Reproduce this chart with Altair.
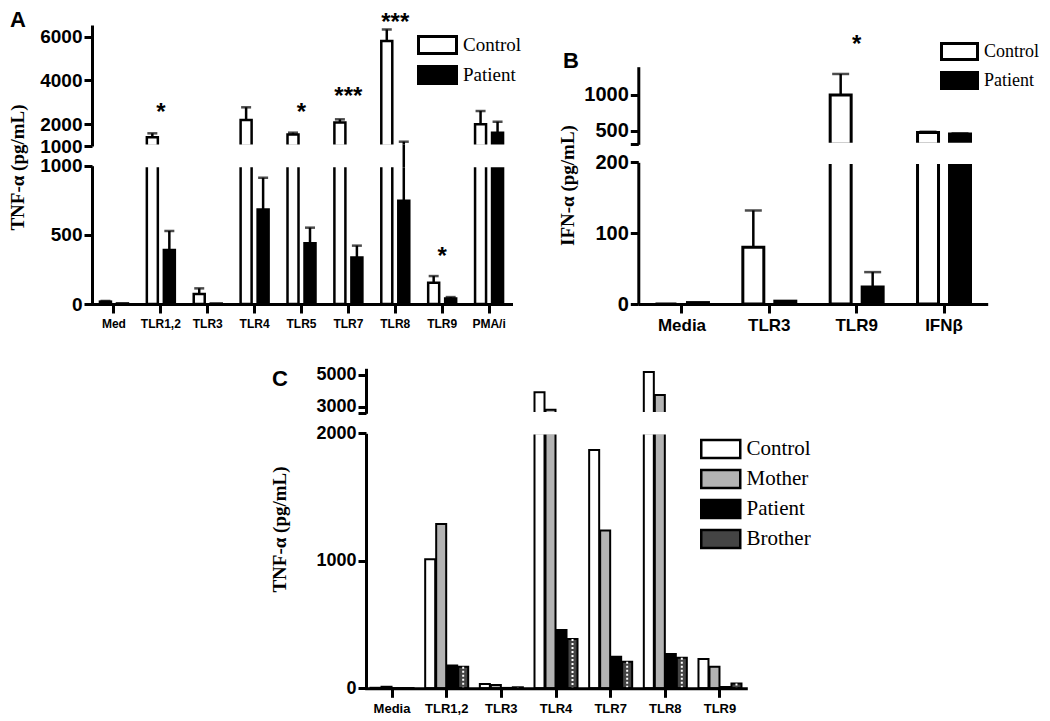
import altair as alt
import pandas as pd

# ---------------- Panel A: TNF-alpha, Control vs Patient ----------------
a_cats = ["Med", "TLR1,2", "TLR3", "TLR4", "TLR5", "TLR7", "TLR8", "TLR9", "PMA/i"]
a_control = [17, 1400, 72, 2190, 1530, 2080, 5800, 154, 1990]
a_control_err = [5, 180, 41, 580, 80, 140, 530, 48, 610]
a_patient = [4, 390, 3, 684, 439, 337, 747, 40, 1610]
a_patient_err = [0, 138, 0, 229, 113, 85, 450, 10, 500]
a_star_cats = ["TLR1,2", "TLR5", "TLR7", "TLR8", "TLR9"]
a_star_text = ["*", "*", "***", "***", "*"]
a_star_value = [2750, 2750, 3480, 7175, 375]
a_star_segment = ["top", "top", "top", "above", "bottom"]

# ---------------- Panel B: IFN-alpha, Control vs Patient ----------------
b_cats = ["Media", "TLR3", "TLR9", "IFNβ"]
b_control = [0, 80, 1000, 472]
b_control_err = [0, 52, 295, 12]
b_patient = [2, 4, 24, 453]
b_patient_err = [0, 0, 21, 8]
b_star_cats = ["TLR9"]
b_star_text = ["*"]
b_star_value = [1765]

# ---------------- Panel C: TNF-alpha, family ----------------
c_cats = ["Media", "TLR1,2", "TLR3", "TLR4", "TLR7", "TLR8", "TLR9"]
c_control = [4, 1012, 34, 3910, 1869, 5190, 230]
c_mother = [12, 1289, 26, 2800, 1237, 3740, 170]
c_patient = [2, 178, 3, 457, 248, 269, 10]
c_brother = [2, 170, 8, 387, 209, 240, 38]

two_series = ["Control", "Patient"]
four_series = ["Control", "Mother", "Patient", "Brother"]

W, H = 1034, 712


def long_df(cats, series):
    rows = []
    for name, (vals, errs) in series.items():
        for c, v, e in zip(cats, vals, errs):
            rows.append({"cat": c, "series": name, "value": v, "top": v + e, "err": e, "base": 0})
    return pd.DataFrame(rows)


dfA = long_df(a_cats, {"Control": (a_control, a_control_err), "Patient": (a_patient, a_patient_err)})
dfB = long_df(b_cats, {"Control": (b_control, b_control_err), "Patient": (b_patient, b_patient_err)})
zeros = [0] * len(c_cats)
dfC = long_df(c_cats, {"Control": (c_control, zeros), "Mother": (c_mother, zeros),
                       "Patient": (c_patient, zeros), "Brother": (c_brother, zeros)})

AXBASE = dict(labelFont="Liberation Sans", labelFontWeight="bold", labelColor="black",
              tickColor="black", tickWidth=3, domainColor="black", domainWidth=3,
              grid=False, zindex=1, labelFlush=False, labelOverlap=False)
TITLE = dict(titleFont="Liberation Serif", titleFontWeight="bold", titleColor="black",
             titleFontSize=19, titleAngle=270, titleAlign="center", titleBaseline="middle")


def yaxis(offset, values, size, title=None, tx=0, ty=0, hide=None):
    kw = dict(AXBASE)
    kw.update(orient="left", offset=offset, values=values, labelFontSize=size, tickSize=8,
              labelPadding=2, format="d")
    if hide is not None:
        kw["labelExpr"] = f"datum.value == {hide} ? '' : datum.label"
    if title:
        kw.update(TITLE)
        kw.update(title=title, titleX=tx, titleY=ty)
    else:
        kw["title"] = None
    return alt.Axis(**kw)


def xaxis(ypix, size, pad):
    kw = dict(AXBASE)
    kw.update(orient="bottom", offset=ypix - H, labelFontSize=size, tickSize=9, labelPadding=pad,
              labelAngle=0, title=None)
    return alt.Axis(**kw)


def make_x(cats, rng, axis):
    return alt.X("cat:N", scale=alt.Scale(domain=cats, range=rng, paddingInner=0, paddingOuter=0), axis=axis)


def make_xo(names, rng, pi, po):
    return alt.XOffset("series:N", scale=alt.Scale(domain=names, range=rng, paddingInner=pi, paddingOuter=po))


def legend(x, y, w, h, fs, rp, sw):
    # rectangle symbol of w x h px; path drawn at twice the nominal symbol size so rows can sit close
    yk = 2 * h / w
    return alt.Legend(orient="none", legendX=x + w / 4, legendY=y, title=None,
                      symbolType=f"M-2,{-yk:.3f}H2V{yk:.3f}H-2Z", symbolSize=w * w / 4,
                      symbolStrokeColor="black", symbolStrokeWidth=sw, symbolOpacity=1,
                      labelFont="Liberation Serif", labelFontSize=fs, labelColor="black",
                      rowPadding=rp, labelOffset=w / 4 + 5, padding=0)


def segment(df, cats, names, colors, x_rng, xo_rng, pi, po, y_dom, y_rng, y_axis, x_axis,
            leg, bar_sw, cap, top, errors=True):
    lo, hi = y_dom
    xs = make_x(cats, x_rng, x_axis)
    xn = make_x(cats, x_rng, None)
    xo = make_xo(names, xo_rng, pi, po)
    ys = alt.Scale(domain=y_dom, range=y_rng, clamp=True, zero=False, nice=False)
    dbar = df[df.value > lo] if top else df
    layers = [alt.Chart(dbar).mark_bar(stroke="black", strokeWidth=bar_sw, strokeJoin="miter").encode(
        x=xs, xOffset=xo,
        y=alt.Y("value:Q", scale=ys, axis=y_axis), y2=alt.Y2("base:Q"),
        fill=alt.Fill("series:N", scale=alt.Scale(domain=names, range=colors), legend=leg))]
    if errors:
        de = df[(df.err > 0) & (df.top > lo) & (df.value < hi)]
        if len(de):
            layers.append(alt.Chart(de).mark_rule(color="black", strokeWidth=2.5).encode(
                x=xn, xOffset=xo, y=alt.Y("value:Q", scale=ys, axis=None), y2=alt.Y2("top:Q")))
        dc = df[(df.err > 0) & (df.top > lo) & (df.top <= hi)]
        if len(dc):
            layers.append(alt.Chart(dc).mark_tick(color="black", thickness=2.5, size=cap).encode(
                x=xn, xOffset=xo, y=alt.Y("top:Q", scale=ys, axis=None)))
    return layers


def gap_rules(df, cats, names, x_rng, xo_rng, pi, po, bottom_hi, top_lo, y_px):
    # error bars that run through the axis break
    d = df[(df.value < bottom_hi) & (df.top > top_lo)].assign(g0=0, g1=1)
    if not len(d):
        return []
    return [alt.Chart(d).mark_rule(color="black", strokeWidth=2.5).encode(
        x=make_x(cats, x_rng, None), xOffset=make_xo(names, xo_rng, pi, po),
        y=alt.Y("g0:Q", scale=alt.Scale(domain=[0, 1], range=y_px, nice=False, zero=False), axis=None),
        y2="g1:Q")]


def star_layer(cats, scats, texts, vals, x_rng, y_dom, y_rng, size, baseline="middle", dy=5):
    d = pd.DataFrame({"cat": scats, "text": texts, "value": vals})
    return alt.Chart(d).mark_text(font="Liberation Sans", fontWeight="bold", fontSize=size, dy=dy,
                                  baseline=baseline, align="center", color="black").encode(
        x=make_x(cats, x_rng, None),
        y=alt.Y("value:Q", scale=alt.Scale(domain=y_dom, range=y_rng, zero=False, nice=False), axis=None),
        text="text:N")


def break_cover(x_px, y_px):
    # white band that opens the bars at the axis break (between the two segments)
    d = pd.DataFrame({"a": [0], "b": [1]})
    return alt.Chart(d).mark_rect(color="white").encode(
        x=alt.X("a:Q", scale=alt.Scale(domain=[0, 1], range=x_px, nice=False, zero=False), axis=None),
        x2="b:Q",
        y=alt.Y("a:Q", scale=alt.Scale(domain=[0, 1], range=y_px, nice=False, zero=False), axis=None),
        y2="b:Q")


def letter(t, x, y):
    return alt.Chart(pd.DataFrame({"t": [t]})).mark_text(
        font="Liberation Sans", fontWeight="bold", fontSize=22, align="left", baseline="middle",
        color="black").encode(x=alt.value(x), y=alt.value(y), text="t:N")


def pick(seg):
    idx = [i for i, s in enumerate(a_star_segment) if s == seg]
    return ([a_star_cats[i] for i in idx], [a_star_text[i] for i in idx], [a_star_value[i] for i in idx])


layers = []

# ----- Panel A geometry (plot pixels) -----
A_X = [82.5, 504.5]
A_XO = [0, 46.9]
A_BOT_DOM, A_BOT_RNG = [0, 1000], [296, 157.7]
A_TOP_DOM, A_TOP_RNG = [1000, 6535], [138, 17]
a_colors = ["white", "black"]
layers += segment(dfA, a_cats, two_series, a_colors, A_X, A_XO, 0.353, 0.556, A_BOT_DOM, A_BOT_RNG,
                  yaxis(-84, [0, 500, 1000], 19, "TNF-α (pg/mL)", 9 - 84, 159),
                  xaxis(296, 12, 5), legend(409, 26, 38, 17, 19, 0, 3), 2.5, 10, False)
layers += segment(dfA, a_cats, two_series, a_colors, A_X, A_XO, 0.353, 0.556, A_TOP_DOM, A_TOP_RNG,
                  yaxis(-84, [1000, 2000, 4000, 6000], 19), None, None, 2.5, 10, True)
layers.append(break_cover([86, 506], [159.2, 136.5]))
layers += gap_rules(dfA, a_cats, two_series, A_X, A_XO, 0.353, 0.556, 1000, 1000, [159.2, 136.5])
layers.append(star_layer(a_cats, *pick("top"), A_X, A_TOP_DOM, A_TOP_RNG, 24))
layers.append(star_layer(a_cats, *pick("above"), A_X, A_TOP_DOM, A_TOP_RNG, 24, baseline="top", dy=0))
layers.append(star_layer(a_cats, *pick("bottom"), A_X, A_BOT_DOM, A_BOT_RNG, 24))

# ----- Panel B geometry -----
B_X = [630.3, 979.7]
B_XO = [0, 87.33]
B_BOT_DOM, B_BOT_RNG = [0, 200], [296, 154.3]
B_TOP_DOM, B_TOP_RNG = [308, 1397], [136.3, 58.7]
layers += segment(dfB, b_cats, two_series, a_colors, B_X, B_XO, 0.344, 0.537, B_BOT_DOM, B_BOT_RNG,
                  yaxis(-630.3, [0, 100, 200], 20, "IFN-α (pg/mL)", 559 - 630.3, 177),
                  xaxis(296, 17, 4), legend(932, 33, 36, 16, 18, 0, 3), 3, 17, False)
layers += segment(dfB, b_cats, two_series, a_colors, B_X, B_XO, 0.344, 0.537, B_TOP_DOM, B_TOP_RNG,
                  yaxis(-630.3, [308, 500, 1000], 20, hide=308), None, None, 3, 17, True)
layers.append(break_cover([632.5, 982], [155.9, 134.7]))
layers += gap_rules(dfB, b_cats, two_series, B_X, B_XO, 0.344, 0.537, 200, 308, [155.9, 134.7])
layers.append(star_layer(b_cats, b_star_cats, b_star_text, b_star_value, B_X, B_TOP_DOM, B_TOP_RNG, 24))

# ----- Panel C geometry -----
C_X = [356.7, 739.3]
C_XO = [0, 54.67]
C_BOT_DOM, C_BOT_RNG = [0, 2000], [680.3, 425.3]
C_TOP_DOM, C_TOP_RNG = [2580, 5420], [405.3, 360.3]
c_colors = ["white", "#b3b3b3", "black", "#444444"]
layers += segment(dfC, c_cats, four_series, c_colors, C_X, C_XO, 0.09, 0.53, C_BOT_DOM, C_BOT_RNG,
                  yaxis(-358, [0, 1000, 2000], 18, "TNF-α (pg/mL)", 271 - 358, 521),
                  xaxis(680.3, 13, 5), legend(692, 430, 39, 18, 21, 2, 2.5), 2, 0, False, errors=False)
layers += segment(dfC, c_cats, four_series, c_colors, C_X, C_XO, 0.09, 0.53, C_TOP_DOM, C_TOP_RNG,
                  yaxis(-358, [2580, 3000, 5000], 18, hide=2580), None, None, 2, 0, True, errors=False)
# checker-like white dashes inside the Brother bars
dbro = dfC[dfC.series == "Brother"]
layers.append(alt.Chart(dbro).mark_rule(color="white", strokeWidth=2, strokeDash=[2, 2]).encode(
    x=make_x(c_cats, C_X, None), xOffset=make_xo(four_series, C_XO, 0.09, 0.53),
    y=alt.Y("value:Q", scale=alt.Scale(domain=C_BOT_DOM, range=C_BOT_RNG, clamp=True, nice=False), axis=None),
    y2=alt.Y2("base:Q")))
layers.append(break_cover([360.5, 741], [426.6, 404.0]))

# panel letters
layers += [letter("A", 2, 12), letter("B", 555, 53), letter("C", 264, 371)]

chart = alt.layer(*layers).resolve_scale(
    x="independent", y="independent", xOffset="independent", fill="independent"
).resolve_axis(x="independent", y="independent").resolve_legend(fill="independent").properties(
    width=W, height=H, autosize=alt.AutoSizeParams(type="none"), padding=0, background="white"
).configure_view(stroke=None)

chart.save("out.html", embed_options={"renderer": "svg", "actions": False})
